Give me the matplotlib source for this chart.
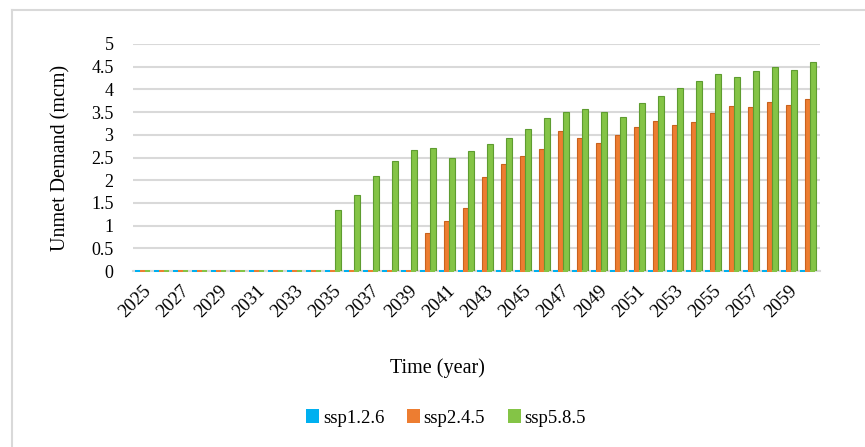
import matplotlib.pyplot as plt
import numpy as np
from matplotlib.lines import Line2D
from matplotlib.patches import Patch

years = list(range(2025, 2061))
ssp126 = [0.0] * 36
ssp245 = [0.0] * 15 + [0.84, 1.10, 1.39, 2.07, 2.35, 2.54, 2.69, 3.09, 2.92, 2.83,
                       3.00, 3.18, 3.30, 3.21, 3.28, 3.49, 3.63, 3.61, 3.72, 3.66, 3.78]
ssp585 = [0.0] * 10 + [1.35, 1.67, 2.10, 2.43, 2.66, 2.71, 2.48, 2.65, 2.79, 2.94,
                       3.12, 3.38, 3.51, 3.57, 3.50, 3.40, 3.70, 3.85, 4.03, 4.18,
                       4.35, 4.28, 4.41, 4.49, 4.43, 4.61]
series = ['ssp1.2.6', 'ssp2.4.5', 'ssp5.8.5']
colors = ['#00B0F0', '#ED7D31', '#84C446']
edges = ['#2C8FC0', '#C9621E', '#5E9C30']

plt.rcParams['font.family'] = ['Liberation Serif', 'DejaVu Serif']

fig = plt.figure(figsize=(8.65, 4.47), dpi=100)
ax = fig.add_axes([133 / 865, 1 - 271 / 447, 687 / 865, 227 / 447])

x = np.arange(len(years))
w = 0.28
for i, (vals, c, e) in enumerate(zip([ssp126, ssp245, ssp585], colors, edges)):
    pos = x + (i - 1) * w
    ax.bar(pos, vals, width=w, color=c, edgecolor=e, linewidth=0.8,
           label=series[i], zorder=3)
    # thin base slab under every column (3-D column floor)
    ax.bar(pos, 0.05, bottom=-0.025, width=w * 0.95, color=c, linewidth=0,
           zorder=4, clip_on=False)

ax.set_xlim(-0.5, 35.65)
ax.set_ylim(0, 5)
ax.set_yticks(np.arange(0, 5.01, 0.5))
ax.set_yticklabels(['0', '0.5', '1', '1.5', '2', '2.5', '3', '3.5', '4', '4.5', '5'])
ax.set_xticks(x[::2])
ax.set_xticklabels([str(y) for y in years[::2]], rotation=45, ha='right',
                   rotation_mode='anchor')
ax.tick_params(axis='y', length=0, pad=14, labelsize=13)
ax.tick_params(axis='x', length=0, pad=8, labelsize=13.5)
ax.grid(axis='y', color='#D9D9D9', linewidth=1.5, zorder=0)
for s in ['top', 'right', 'left']:
    ax.spines[s].set_visible(False)
ax.spines['bottom'].set_color('#D9D9D9')
ax.spines['bottom'].set_linewidth(1.5)

ax.set_ylabel('Unmet Demand (mcm)', fontsize=14.5, labelpad=15)
fig.text(437 / 865, 1 - 368 / 447, 'Time (year)', ha='center', va='center', fontsize=14.5)

handles = [Patch(facecolor=c, edgecolor='none') for c in colors]
fig.legend(handles, series, loc='center', bbox_to_anchor=(446 / 865, 1 - 418 / 447),
           ncol=3, frameon=False, fontsize=13.5, handlelength=0.7, handleheight=0.7,
           handletextpad=0.2, columnspacing=1.2)

# chart area frame
fig.add_artist(Line2D([12 / 865, 12 / 865], [0, 1 - 10 / 447], color='#D9D9D9',
                      linewidth=1.5, transform=fig.transFigure))
fig.add_artist(Line2D([12 / 865, 1], [1 - 10 / 447, 1 - 10 / 447], color='#D9D9D9',
                      linewidth=1.5, transform=fig.transFigure))

fig.savefig('out.png', dpi=100)
